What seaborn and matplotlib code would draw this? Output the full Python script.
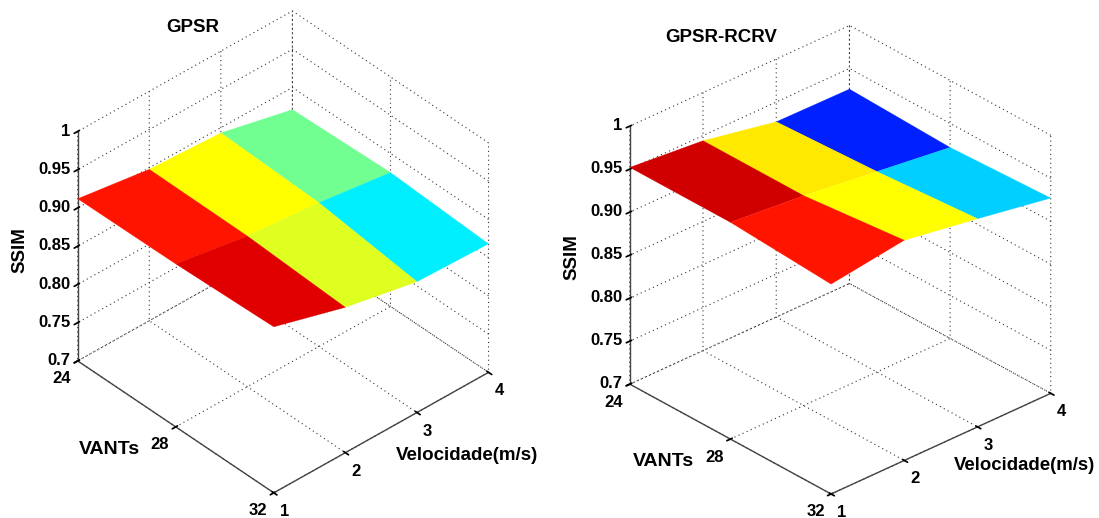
import numpy as np
import matplotlib
matplotlib.use("Agg")
import matplotlib.pyplot as plt
from matplotlib.colors import to_rgba
import seaborn as sns

vants = [24, 28, 32]
velocidade = [1, 2, 3, 4]
ssim_ticks = [0.7, 0.75, 0.80, 0.85, 0.90, 0.95, 1]
ssim_labels = ["0.7", "0.75", "0.80", "0.85", "0.90", "0.95", "1"]

# rows are VANTs, columns are velocidade
gpsr = [[0.912, 0.898, 0.893, 0.871],
        [0.913, 0.897, 0.888, 0.875],
        [0.917, 0.890, 0.871, 0.868]]
gpsr_rcrv = [[0.952, 0.944, 0.927, 0.926],
             [0.952, 0.944, 0.933, 0.922],
             [0.944, 0.956, 0.942, 0.927]]

gpsr_colors = [["#FF1400", "#FFFF00", "#70FF90"],
               ["#E00000", "#DFFF20", "#00EFFF"]]
rcrv_colors = [["#D00000", "#FFE900", "#0020FF"],
               ["#FF1400", "#FFFF00", "#00CFFF"]]

W, H = 1099, 518

sns.set_theme(style="white", font="Liberation Sans", rc={
    "font.weight": "bold", "font.size": 12,
    "xtick.labelsize": 12, "ytick.labelsize": 12,
    "grid.color": "#333333", "grid.linestyle": (0, (1, 3)), "grid.linewidth": 0.8,
    "axes.edgecolor": "#444444", "axes.linewidth": 1.0,
    "xtick.color": "black", "ytick.color": "black",
})

fig = plt.figure(figsize=(W / 100, H / 100), dpi=100, facecolor="white")


def panel(z, colors, left, bottom, size, elev, azim):
    ax = fig.add_axes([left / W, bottom / H, size / W, size / H],
                      projection="3d", proj_type="ortho")
    ax.view_init(elev=elev, azim=azim)
    ax.set_box_aspect((1, 1, 1))
    X, Y = np.meshgrid(vants, velocidade, indexing="ij")
    face = np.array([[to_rgba(c) for c in row] for row in colors])
    ax.plot_surface(X, Y, np.array(z), facecolors=face, rstride=1, cstride=1,
                    shade=False, linewidth=0.2)
    ax.set_xlim(24, 32, view_margin=0)
    ax.set_ylim(1, 4, view_margin=0)
    ax.set_zlim(0.7, 1, view_margin=0)
    ax.set_xticks(vants)
    ax.set_yticks(velocidade)
    ax.set_zticks(ssim_ticks)
    ax.set_zticklabels(ssim_labels)
    ax.patch.set_alpha(0)
    for axis in (ax.xaxis, ax.yaxis, ax.zaxis):
        axis.set_pane_color((1, 1, 1, 1))
        axis.pane.set_edgecolor("white")
        axis.line.set_color("#444444")
        axis.line.set_linewidth(1.0)
    ax.zaxis.set_ticks_position("lower")
    ax.tick_params(axis="x", pad=-2.5, labelsize=12)
    ax.tick_params(axis="y", pad=-2.4, labelsize=12)
    ax.tick_params(axis="z", pad=-4.8, labelsize=12)
    for t in ax.xaxis.get_ticklabels():
        t.set_ha("right")
    for t in ax.yaxis.get_ticklabels():
        t.set_ha("left")
    for t in ax.zaxis.get_ticklabels():
        t.set_ha("right")
        t.set_va("center")
    return ax


panel(gpsr, gpsr_colors, 32, 15, 489, 37.9, -42.4)
panel(gpsr_rcrv, rcrv_colors, 583, 1, 501, 30, -42.5)


def label(x, y, s, size=14, rotation=0):
    fig.text(x / W, 1 - y / H, s, fontsize=size, fontweight="bold", rotation=rotation,
             ha="center", va="center", color="black")


label(193, 27, "GPSR", size=13.5)
label(721, 38, "GPSR-RCRV", size=13.5)
label(20, 250, "SSIM", size=13.5, rotation=90)
label(572, 257, "SSIM", size=13.5, rotation=90)
label(109, 450, "VANTs")
label(663, 461, "VANTs")
label(467, 456, "Velocidade(m/s)", size=13.5)
label(1025, 466, "Velocidade(m/s)", size=13.4)

fig.savefig("out.png", dpi=100, facecolor="white")
